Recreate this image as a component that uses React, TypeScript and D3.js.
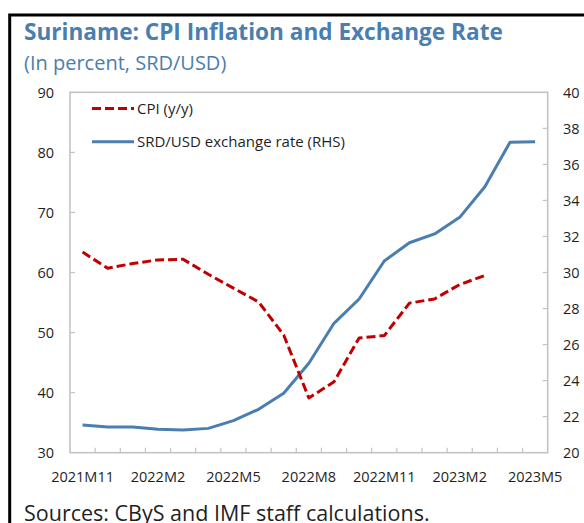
import React from "react";
import * as d3 from "d3";

const months = [
  "2021M11", "2021M12", "2022M1", "2022M2", "2022M3", "2022M4", "2022M5",
  "2022M6", "2022M7", "2022M8", "2022M9", "2022M10", "2022M11", "2022M12",
  "2023M1", "2023M2", "2023M3", "2023M4", "2023M5",
];
const cpi: (number | null)[] = [
  63.4, 60.7, 61.5, 62.1, 62.2, 59.7, 57.4, 55.1, 49.6, 39.1, 41.8, 49.1,
  49.5, 54.9, 55.6, 58.0, 59.5, null, null,
];
const fx: number[] = [
  21.54, 21.43, 21.43, 21.3, 21.26, 21.35, 21.78, 22.41, 23.3, 24.96, 27.18,
  28.53, 30.64, 31.65, 32.14, 33.06, 34.76, 37.23, 37.26,
];
const leftTicks = [30, 40, 50, 60, 70, 80, 90];
const rightTicks = [20, 22, 24, 26, 28, 30, 32, 34, 36, 38, 40];
const labelEvery = 3;

const W = 584, H = 523;
const L = 70, R = 547.7, T = 92.3, B = 452.7;
const BLUE = "#4a7eb0";
const RED = "#c00000";
const AXIS = "#c3c3c3";
const TXT = "#1f1f1f";
const FONT = "'Open Sans', 'Noto Sans', sans-serif";

export default function App() {
  const x = d3.scaleBand<string>().domain(months).range([L, R]).padding(0);
  const yL = d3.scaleLinear().domain([30, 90]).range([B, T]);
  const yR = d3.scaleLinear().domain([20, 40]).range([B, T]);
  const cx = (i: number) => (x(months[i]) as number) + x.bandwidth() / 2;

  const cpiLine = d3
    .line<number | null>()
    .defined((d) => d != null)
    .x((_, i) => cx(i))
    .y((d) => yL(d as number))(cpi) as string;
  const fxLine = d3
    .line<number>()
    .x((_, i) => cx(i))
    .y((d) => yR(d))(fx) as string;

  return (
    <svg
      width={W}
      height={H}
      style={{ position: "absolute", left: 0, top: 0, background: "#fff" }}
      fontFamily={FONT}
    >
      <rect x={0} y={0} width={W} height={H} fill="#fff" />
      <path d={`M9.7,${H} V15 H${W}`} fill="none" stroke="#000" strokeWidth={3} />
      <text x={24} y={40} fill={BLUE} fontSize={22.6} fontWeight={700}>
        Suriname: CPI Inflation and Exchange Rate
      </text>
      <text x={24} y={70} fill={BLUE} fontSize={20}>
        (In percent, SRD/USD)
      </text>

      {/* plot frame */}
      <rect x={L} y={T} width={R - L} height={B - T} fill="none" stroke={AXIS} strokeWidth={1.6} />

      {/* x ticks */}
      {months.slice(1).map((m) => (
        <line key={m} x1={x(m)} x2={x(m)} y1={B} y2={B - 5} stroke={AXIS} strokeWidth={1.2} />
      ))}
      {months.map((m, i) =>
        i % labelEvery === 0 ? (
          <text key={m} x={cx(i)} y={482} textAnchor="middle" fontSize={14.5} fill={TXT}>
            {m}
          </text>
        ) : null
      )}

      {/* left axis */}
      {leftTicks.map((t) => (
        <g key={"l" + t}>
          {t !== 30 && t !== 90 && (
            <line x1={L} x2={L + 5} y1={yL(t)} y2={yL(t)} stroke={AXIS} strokeWidth={1.2} />
          )}
          <text x={54} y={yL(t)} dy="0.36em" textAnchor="end" fontSize={14.5} fill={TXT}>
            {t}
          </text>
        </g>
      ))}

      {/* right axis */}
      {rightTicks.map((t) => (
        <g key={"r" + t}>
          {t !== 20 && t !== 40 && (
            <line x1={R - 5} x2={R} y1={yR(t)} y2={yR(t)} stroke={AXIS} strokeWidth={1.2} />
          )}
          <text x={563} y={yR(t)} dy="0.36em" textAnchor="start" fontSize={14.5} fill={TXT}>
            {t}
          </text>
        </g>
      ))}

      {/* series */}
      <path d={fxLine} fill="none" stroke={BLUE} strokeWidth={3} strokeLinejoin="round" />
      <path d={cpiLine} fill="none" stroke={RED} strokeWidth={3} strokeDasharray="9,4" strokeLinejoin="round" />

      {/* legend */}
      <line x1={92} x2={134} y1={108.5} y2={108.5} stroke={RED} strokeWidth={3} strokeDasharray="9,4" />
      <text x={137} y={113.8} fontSize={15} fill={TXT}>CPI (y/y)</text>
      <line x1={92} x2={134} y1={141.7} y2={141.7} stroke={BLUE} strokeWidth={3} />
      <text x={137} y={147} fontSize={15} fill={TXT}>SRD/USD exchange rate (RHS)</text>

      <text x={24} y={521} fontSize={21.5} fill={TXT}>
        Sources: CByS and IMF staff calculations.
      </text>
    </svg>
  );
}
